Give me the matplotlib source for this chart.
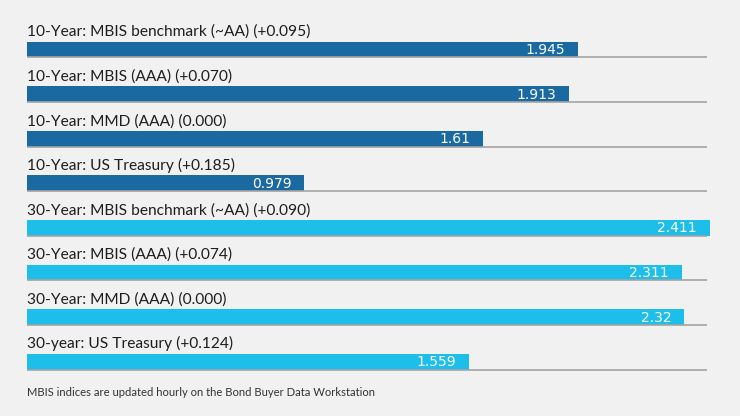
import matplotlib.pyplot as plt

labels = [
    "10-Year: MBIS benchmark (~AA) (+0.095)",
    "10-Year: MBIS (AAA) (+0.070)",
    "10-Year: MMD (AAA) (0.000)",
    "10-Year: US Treasury (+0.185)",
    "30-Year: MBIS benchmark (~AA) (+0.090)",
    "30-Year: MBIS (AAA) (+0.074)",
    "30-Year: MMD (AAA) (0.000)",
    "30-year: US Treasury (+0.124)",
]
values = [1.945, 1.913, 1.61, 0.979, 2.411, 2.311, 2.32, 1.559]
value_text = ["1.945", "1.913", "1.61", "0.979", "2.411", "2.311", "2.32", "1.559"]
colors = ["#1a69a0"] * 4 + ["#1dbfea"] * 4
note = "MBIS indices are updated hourly on the Bond Buyer Data Workstation"

bg = "#f0f1f0"
W, H = 740, 416
fig = plt.figure(figsize=(W / 100, H / 100), dpi=100, facecolor=bg)

# axes: x from pixel 27 to 710, full height
ax = fig.add_axes([27 / W, 0, (710 - 27) / W, 1])
ax.set_facecolor(bg)
row = 44.6
top0 = 49.5
ax.set_xlim(0, 2.411)
ax.set_ylim((H - top0) / row, -top0 / row)
ax.axis("off")

bh = 15.7 / row
for i, (v, c) in enumerate(zip(values, colors)):
    ax.barh(i, v, height=bh, color=c, zorder=2)
    ax.plot([0, 2.40], [i + bh / 2, i + bh / 2], color="#a3a3a3", lw=1.2, zorder=3,
            solid_capstyle="butt")
    ax.text(0, i - bh / 2 - 5.5 / row, labels[i], ha="left", va="baseline",
            fontsize=11.2, family="Lato", color="#1e1e1e")
    ax.text(v - 13 / 283.3, i + 0.01, value_text[i], ha="right", va="center",
            fontsize=10, family="DejaVu Sans", color="white", zorder=4)

fig.text(27 / W, 1 - 393 / H, note, ha="left", va="center", fontsize=8.1,
         family="Lato", color="#333333")

fig.savefig("out.png", dpi=100, facecolor=bg)
